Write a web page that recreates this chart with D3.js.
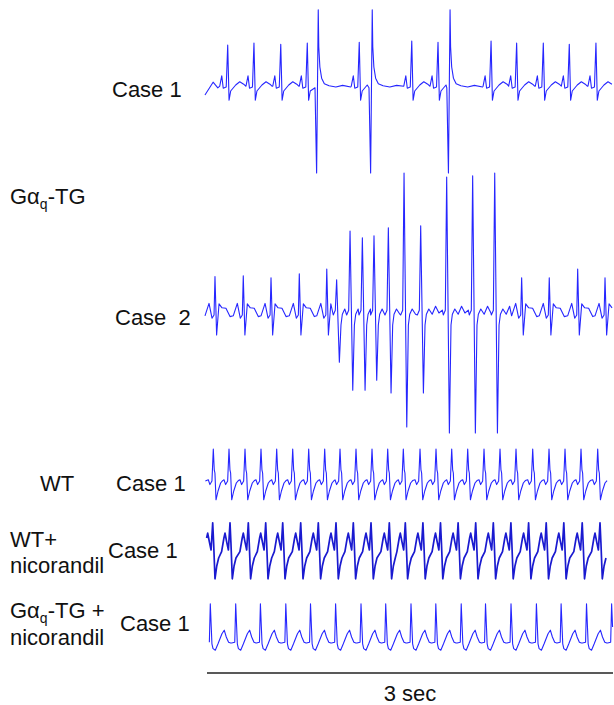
<!DOCTYPE html>
<html>
<head>
<meta charset="utf-8">
<script src="https://cdn.jsdelivr.net/npm/d3@7"></script>
<style>
  body { margin: 0; background: #fff; }
  svg { font-family: "Liberation Sans", Arial, sans-serif; }
</style>
</head>
<body>
<div id="chart"></div>
<script>
// beat times in seconds (read against the 3 sec bar), amplitudes in mV

// Gaq-TG, case 1 : sinus beats + 3 PVCs
const case1NormalT = [0.153, 0.347, 0.545, 0.741, 1.125, 1.513, 1.707, 2.099, 2.288, 2.485, 2.677, 2.874];
const case1NormalR = [1.05, 1.1, 1.07, 1.1, 1.12, 1.15, 1.12, 1.15, 1.1, 1.1, 1.07, 1.1];
const case1PvcT = [0.822, 1.221, 1.796];
const case1Lead = [[-0.015, -0.2], [0.045, 0.12], [0.08, -0.02]];

// Gaq-TG, case 2 : sinus beats + run of VT
const case2NormalT = [0.059, 0.268, 0.473, 0.682, 0.885, 2.325, 2.529, 2.739, 2.941];
const case2NormalR = [0.96, 0.98, 0.93, 1.03, 1.15, 0.93, 0.93, 1.15, 0.93];
const case2VtT = [0.958, 1.057, 1.148, 1.234, 1.34, 1.456, 1.579, 1.771, 1.963, 2.126];
const case2VtUp = [0.88, 2.1, 1.93, 1.98, 2.18, 3.55, 2.23, 3.45, 3.48, 3.55];
const case2VtDown = [-1.18, -1.88, -1.88, -1.63, -1.95, -2.8, -1.95, -2.95, -2.95, -2.95];

// WT, case 1
const wtT = [0.0466, 0.1626, 0.2808, 0.399, 0.515, 0.6333, 0.7515, 0.8697, 0.9828, 1.101, 1.2193,
  1.3353, 1.4506, 1.574, 1.6922, 1.8082, 1.9264, 2.0469, 2.1651, 2.2833, 2.4067, 2.5272,
  2.6454, 2.7636, 2.887];
const wtLead = [[-0.012, 0.05]];

// WT + nicorandil, case 1
const wtNicT = [0.0421, 0.17, 0.3052, 0.4338, 0.5594, 0.6924, 0.8224, 0.9532, 1.0811, 1.2119,
  1.3471, 1.4653, 1.5954, 1.7254, 1.8555, 1.9855, 2.1156, 2.2456, 2.3764, 2.5065, 2.6365,
  2.7725, 2.904];

// Gaq-TG + nicorandil, case 1
const tgNicT = [0.0244, 0.2121, 0.3946, 0.5823, 0.7648, 0.9503, 1.138, 1.3205, 1.5074, 1.6907,
  1.8784, 2.058, 2.2464, 2.4341, 2.6166, 2.8043, 2.9898];

// beat shapes: [ms from R, mV]; strings are per-beat amplitudes
const case1Beat = [[-59, 0.02], [-44, 0.28], [-33, -0.03], [-11, 0], [0, "R"], [10, -0.33],
  [22, -0.1], [59, 0.05], [89, 0.13], [118, 0.07], [133, 0.02]];
const case1PvcBeat = [[-24, -0.02], [-12, -2.15], [0, 1.93], [4, 1.0], [12, 0.5], [25, 0.22],
  [45, 0.08], [80, 0.03], [130, 0.0], [180, 0.04], [240, 0.0]];
const case2Beat = [[-74, -0.02], [-44, 0.29], [-22, -0.08], [-7, 0], [0, "R"], [12, -0.5],
  [30, 0.28], [52, 0.18], [81, 0.17], [111, -0.04], [140, -0.02]];
const vtBeat = [[-25, 0.0], [-10, 0.12], [0, "up"], [20, "down"], [32, -0.25], [42, 0.02],
  [60, 0.15], [85, 0.02], [110, 0.22], [135, 0.05], [160, 0.12]];
const wtBeat = [[-37, 0.08], [-25, -0.04], [-10, 0.05], [0, 0.85], [7, 0.33], [12, 0.25],
  [20, -0.42], [35, -0.2], [54, 0.0], [69, 0.06]];
const wtNicBeat = [[-62, -0.04], [-45, 0.3], [-37, 0.42], [-30, 0.3], [-25, 0.21], [-12, 0.0],
  [0, 0.68], [7, 0.17], [17, -0.72], [30, -0.4], [44, -0.2]];
const tgNicBeat = [[-30, 0.0], [-7, 0.02], [0, 0.98], [7, 0.4], [12, -0.02], [20, -0.14],
  [37, -0.18], [57, -0.02], [86, 0.23], [103, 0.32], [118, 0.15], [135, 0.02], [150, 0.0]];

// stitch beats into one polyline, each beat cut where the next one starts
function buildTrace(beats, lead, t0, t1) {
  beats.sort((a, b) => a.t - b.t);
  const pts = lead.slice();
  beats.forEach((b, i) => {
    const next = beats[i + 1];
    const stop = next ? next.t + next.tpl[0][0] / 1000 : Infinity;
    b.tpl.forEach(([dt, v]) => {
      const t = b.t + dt / 1000;
      if (t >= stop || t < t0 || t > t1) return;
      if (pts.length && t <= pts[pts.length - 1][0]) return;
      pts.push([t, typeof v === "string" ? b.amp[v] : v]);
    });
  });
  return pts;
}

const case1Points = buildTrace(
  case1NormalT.map((t, i) => ({ t, tpl: case1Beat, amp: { R: case1NormalR[i] } }))
    .concat(case1PvcT.map((t) => ({ t, tpl: case1PvcBeat, amp: {} }))),
  case1Lead, -0.015, 3.0);
const case2Points = buildTrace(
  case2NormalT.map((t, i) => ({ t, tpl: case2Beat, amp: { R: case2NormalR[i] } }))
    .concat(case2VtT.map((t, i) => ({ t, tpl: vtBeat, amp: { up: case2VtUp[i], down: case2VtDown[i] } }))),
  [], -0.015, 3.0);
const wtPoints = buildTrace(wtT.map((t) => ({ t, tpl: wtBeat, amp: {} })), wtLead, -0.015, 3.0);
const wtNicPoints = buildTrace(wtNicT.map((t) => ({ t, tpl: wtNicBeat, amp: {} })), [], -0.012, 3.0);
const tgNicPoints = buildTrace(tgNicT.map((t) => ({ t, tpl: tgNicBeat, amp: {} })), [], 0, 3.0);

const width = 614;
const height = 705;

const svg = d3
  .select("#chart")
  .append("svg")
  .attr("width", width)
  .attr("height", height);

const x = d3.scaleLinear().domain([0, 3]).range([207, 613]);
const gain = 40; // px per mV

const rows = [
  { pts: case1Points, base: 87, color: "#2626ff", w: 1.1 },
  { pts: case2Points, base: 315, color: "#2626ff", w: 1.1 },
  { pts: wtPoints, base: 483, color: "#2626ff", w: 1.1 },
  { pts: wtNicPoints, base: 550, color: "#1a1ad0", w: 1.7 },
  { pts: tgNicPoints, base: 643, color: "#2626ff", w: 1.1 },
];

rows.forEach((r) => {
  const y = d3.scaleLinear().domain([-1, 1]).range([r.base + gain, r.base - gain]);
  svg
    .append("path")
    .datum(r.pts)
    .attr("fill", "none")
    .attr("stroke", r.color)
    .attr("stroke-width", r.w)
    .attr("stroke-linejoin", "round")
    .attr(
      "d",
      d3
        .line()
        .x((d) => x(d[0]))
        .y((d) => y(d[1]))
    );
});

// 3 sec scale bar
const bar = svg.append("g").attr("transform", "translate(0,673)");
bar
  .append("line")
  .attr("x1", x(0))
  .attr("x2", x(3))
  .attr("stroke", "#222")
  .attr("stroke-width", 1.6);
bar
  .append("text")
  .attr("x", x(1.5))
  .attr("y", 28)
  .attr("text-anchor", "middle")
  .attr("font-size", 22)
  .attr("fill", "#111")
  .text("3 sec");

// labels
const labels = [
  { text: "Case 1", x: 112, y: 97 },
  { text: "Case  2", x: 115, y: 325 },
  { text: "WT", x: 40, y: 491 },
  { text: "Case 1", x: 116, y: 491 },
  { text: "WT+", x: 10, y: 547 },
  { text: "nicorandil", x: 10, y: 573 },
  { text: "Case 1", x: 108, y: 558 },
  { text: "nicorandil", x: 10, y: 645 },
  { text: "Case 1", x: 120, y: 631 },
];

svg
  .selectAll(".lbl")
  .data(labels)
  .join("text")
  .attr("class", "lbl")
  .attr("x", (d) => d.x)
  .attr("y", (d) => d.y)
  .attr("font-size", 22)
  .attr("fill", "#111")
  .style("white-space", "pre")
  .text((d) => d.text);

// G alpha q labels with subscript
const gq = [
  { x: 10, y: 204, tail: "-TG" },
  { x: 10, y: 618, tail: "-TG +" },
];
gq.forEach((g) => {
  const t = svg
    .append("text")
    .attr("x", g.x)
    .attr("y", g.y)
    .attr("font-size", 22)
    .attr("fill", "#111");
  t.append("tspan").text("Gα");
  t.append("tspan").attr("dy", 5).attr("font-size", 14).text("q");
  t.append("tspan").attr("dy", -5).text(g.tail);
});
</script>
</body>
</html>
